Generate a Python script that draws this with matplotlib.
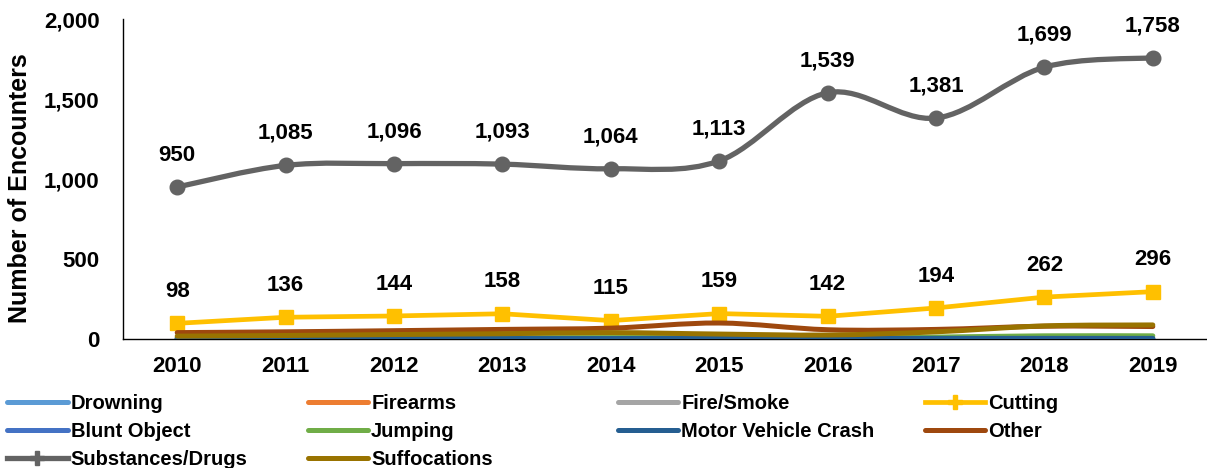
import matplotlib
matplotlib.use("Agg")
import matplotlib.pyplot as plt
from matplotlib.path import Path
from matplotlib.patches import PathPatch
from matplotlib.lines import Line2D
import numpy as np

years = ["2010", "2011", "2012", "2013", "2014", "2015", "2016", "2017", "2018", "2019"]

drowning = [3, 3, 3, 3, 3, 3, 3, 3, 3, 3]
firearms = [2, 2, 2, 2, 2, 2, 2, 2, 2, 2]
fire_smoke = [2, 2, 2, 2, 2, 2, 2, 2, 2, 2]
cutting = [98, 136, 144, 158, 115, 159, 142, 194, 262, 296]
blunt_object = [3, 3, 3, 3, 3, 3, 3, 3, 3, 3]
jumping = [6, 7, 7, 8, 9, 9, 8, 12, 20, 20]
motor_vehicle = [2, 2, 3, 3, 3, 4, 3, 4, 4, 4]
other = [40, 45, 52, 60, 68, 100, 58, 60, 80, 78]
substances = [950, 1085, 1096, 1093, 1064, 1113, 1539, 1381, 1699, 1758]
suffocations = [18, 22, 28, 33, 40, 31, 25, 45, 82, 88]

series = [
    ("Drowning", drowning, "#5B9BD5"),
    ("Firearms", firearms, "#ED7D31"),
    ("Fire/Smoke", fire_smoke, "#A5A5A5"),
    ("Cutting", cutting, "#FFC000"),
    ("Blunt Object", blunt_object, "#4472C4"),
    ("Jumping", jumping, "#70AD47"),
    ("Motor Vehicle Crash", motor_vehicle, "#255E91"),
    ("Other", other, "#9E480E"),
    ("Substances/Drugs", substances, "#636363"),
    ("Suffocations", suffocations, "#997300"),
]

FONT = "Liberation Sans"
FS = 16
LEG_FS = 14.5


def smooth_path(xs, ys):
    # excel-like smoothed line: cubic bezier through each point
    pts = np.column_stack([xs, ys]).astype(float)
    n = len(pts)
    verts = [pts[0]]
    codes = [Path.MOVETO]
    for i in range(n - 1):
        p0 = pts[max(i - 1, 0)]
        p1 = pts[i]
        p2 = pts[i + 1]
        p3 = pts[min(i + 2, n - 1)]
        c1 = p1 + (p2 - p0) / 6.0
        c2 = p2 - (p3 - p1) / 6.0
        verts += [c1, c2, p2]
        codes += [Path.CURVE4] * 3
    return Path(verts, codes)


fig = plt.figure(figsize=(12.07, 4.68), dpi=100)
ax = fig.add_axes([0.1019, 0.2756, 0.8981, 0.6838])

x = np.arange(len(years))
handles = {}
for name, vals, col in series:
    if name == "Cutting":
        ax.plot(x, vals, color=col, lw=3.4, marker="s", markersize=10.5,
                solid_capstyle="round", zorder=3)
        h = Line2D([], [], color=col, lw=3.4, marker="P", markersize=10)
    else:
        lw = 3.8 if name == "Substances/Drugs" else 3.6
        patch = PathPatch(smooth_path(x, vals), facecolor="none", edgecolor=col,
                          lw=lw, capstyle="round", joinstyle="round", zorder=3)
        ax.add_patch(patch)
        if name == "Substances/Drugs":
            ax.plot(x, vals, linestyle="none", marker="o", markersize=10.5,
                    color=col, zorder=4)
            h = Line2D([], [], color=col, lw=lw, marker="P", markersize=10)
        else:
            h = Line2D([], [], color=col, lw=lw, solid_capstyle="round")
    handles[name] = h

for vals in (substances, cutting):
    for xi, v in zip(x, vals):
        ax.annotate(f"{v:,}", (xi, v), xytext=(0, 23), textcoords="offset points",
                    ha="center", va="center", fontsize=FS, fontweight="bold",
                    family=FONT, color="black")

ax.set_xlim(-0.5, len(years) - 0.5)
ax.set_ylim(0, 2000)
ax.set_yticks([0, 500, 1000, 1500, 2000])
ax.set_yticklabels([f"{t:,}" for t in [0, 500, 1000, 1500, 2000]])
ax.set_xticks(x)
ax.set_xticklabels(years)
ax.tick_params(axis="both", length=0, labelsize=FS)
ax.tick_params(axis="y", pad=17)
ax.tick_params(axis="x", pad=12)
for lbl in ax.get_xticklabels() + ax.get_yticklabels():
    lbl.set_fontweight("bold")
    lbl.set_family(FONT)
ax.spines["top"].set_visible(False)
ax.spines["right"].set_visible(False)
ax.spines["left"].set_linewidth(1.0)
ax.spines["bottom"].set_linewidth(1.0)
ax.spines["left"].set_color("black")
ax.spines["bottom"].set_color("black")

fig.text(0.0166, 0.598, "Number of Encounters", rotation=90, ha="center", va="center",
         fontsize=18, fontweight="bold", family=FONT)

cols = [
    ["Drowning", "Blunt Object", "Substances/Drugs"],
    ["Firearms", "Jumping", "Suffocations"],
    ["Fire/Smoke", "Motor Vehicle Crash"],
    ["Cutting", "Other"],
]
col_x = [0.006, 0.255, 0.512, 0.766]
for cx, names in zip(col_x, cols):
    leg = fig.legend([handles[n] for n in names], names, loc="upper left",
                     bbox_to_anchor=(cx, 0.159), frameon=False, handlelength=3.0,
                     handletextpad=0.15, labelspacing=0.45, borderaxespad=0,
                     borderpad=0,
                     prop={"family": FONT, "weight": "bold", "size": LEG_FS})

fig.savefig("out.png", dpi=100)
